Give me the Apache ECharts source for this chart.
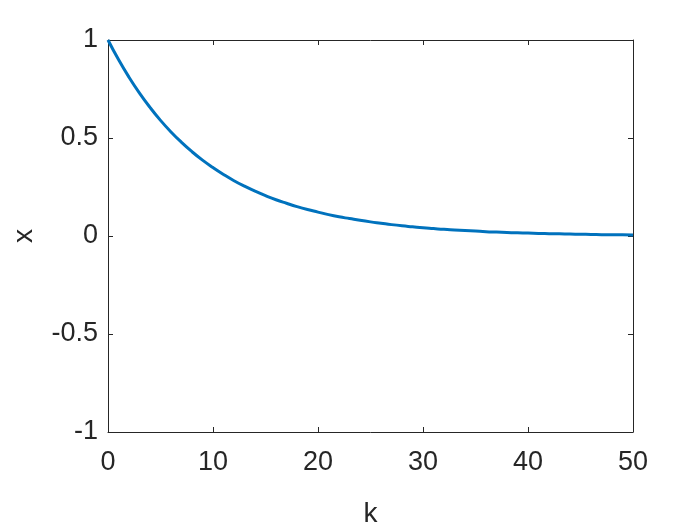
<!DOCTYPE html>
<html>
<head>
<meta charset="utf-8">
<script src="https://cdn.jsdelivr.net/npm/echarts@6/dist/echarts.min.js"></script>
<style>
  html,body{margin:0;padding:0;background:#fff;}
  #chart{width:700px;height:525px;}
</style>
</head>
<body>
<div id="chart"></div>
<script>
// values
const kValues = [0,1,2,3,4,5,6,7,8,9,10,11,12,13,14,15,16,17,18,19,20,21,22,23,24,25,
  26,27,28,29,30,31,32,33,34,35,36,37,38,39,40,41,42,43,44,45,46,47,48,49,50];
const xValues = [1,0.9,0.81,0.729,0.656,0.59,0.531,0.478,0.43,0.387,0.349,0.314,0.282,0.254,
  0.229,0.206,0.185,0.167,0.15,0.135,0.122,0.109,0.098,0.089,0.08,0.072,0.065,0.058,0.052,
  0.047,0.042,0.038,0.034,0.031,0.028,0.025,0.022,0.02,0.018,0.016,0.015,0.013,0.012,0.011,
  0.01,0.009,0.008,0.007,0.006,0.006,0.005];
const xTicks = [0,10,20,30,40,50];
const yTicks = [-1,-0.5,0,0.5,1];

let points = kValues.map((k,i)=>[k,xValues[i]]);
let font = "Liberation Sans, Arial, sans-serif";
let axisCol = "#262626";

function tickFmt(list){
  return function(v){
    let t = list.find(a=>Math.abs(a-v)<1e-9);
    return t===undefined ? "" : String(t);
  }
}

let myChart = echarts.init(document.getElementById("chart"));
myChart.setOption({
  animation:false,
  grid:{left:108,right:67,top:40,bottom:93,containLabel:false,outerBoundsMode:"none"},
  xAxis:[
    {
      type:"value",min:0,max:50,interval:10,
      name:"k",nameLocation:"middle",nameGap:68,
      nameTextStyle:{fontFamily:font,fontSize:28,color:axisCol},
      axisLine:{onZero:false,lineStyle:{color:axisCol,width:1}},
      axisTick:{inside:true,length:5,lineStyle:{color:axisCol}},
      axisLabel:{fontFamily:font,fontSize:27,color:axisCol,margin:17,formatter:tickFmt(xTicks)},
      splitLine:{show:false},
    },
    {
      type:"value",min:0,max:50,interval:10,position:"top",
      axisLine:{onZero:false,lineStyle:{color:axisCol,width:1}},
      axisTick:{inside:true,length:5,lineStyle:{color:axisCol}},
      axisLabel:{show:false},
      splitLine:{show:false},
    },
  ],
  yAxis:[
    {
      type:"value",min:-1,max:1,interval:0.5,
      name:"x",nameLocation:"middle",nameGap:70,
      nameTextStyle:{fontFamily:font,fontSize:28,color:axisCol},
      axisLine:{onZero:false,lineStyle:{color:axisCol,width:1}},
      axisTick:{inside:true,length:5,lineStyle:{color:axisCol}},
      axisLabel:{fontFamily:font,fontSize:27,color:axisCol,margin:10,formatter:tickFmt(yTicks)},
      splitLine:{show:false},
    },
    {
      type:"value",min:-1,max:1,interval:0.5,position:"right",
      axisLine:{onZero:false,lineStyle:{color:axisCol,width:1}},
      axisTick:{inside:true,length:5,lineStyle:{color:axisCol}},
      axisLabel:{show:false},
      splitLine:{show:false},
    },
  ],
  series:[
    {
      type:"line",
      data:points,
      showSymbol:false,
      smooth:true,
      lineStyle:{color:"#0072BD",width:3},
    },
  ],
})
</script>
</body>
</html>
